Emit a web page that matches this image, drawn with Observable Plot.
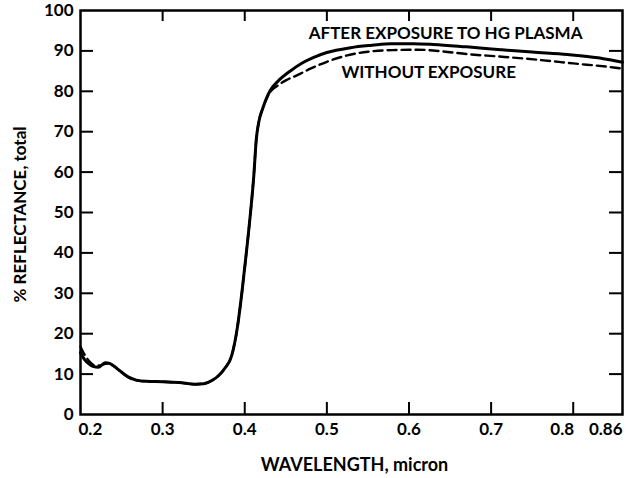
<!DOCTYPE html>
<html>
<head>
<meta charset="utf-8">
<script src="https://cdn.jsdelivr.net/npm/d3@7"></script>
<script src="https://cdn.jsdelivr.net/npm/@observablehq/plot@0.6"></script>
<style>
  html, body { margin: 0; padding: 0; background: #fff; }
  #chart svg { display: block; }
</style>
</head>
<body>
<div id="chart"></div>
<script>
// After exposure to Hg plasma (solid)
const afterWl = [0.200, 0.205, 0.210, 0.215, 0.222, 0.230, 0.236, 0.245, 0.258, 0.268, 0.280, 0.300, 0.320, 0.340, 0.350, 0.360, 0.368, 0.376, 0.384, 0.391, 0.397, 0.403, 0.408, 0.411, 0.414, 0.417, 0.422, 0.431, 0.440, 0.456, 0.470, 0.484, 0.500, 0.529, 0.555, 0.578, 0.605, 0.630, 0.670, 0.712, 0.750, 0.793, 0.830, 0.849, 0.860];
const afterR  = [15.3, 13.6, 12.6, 11.9, 11.7, 12.8, 12.6, 11.3, 9.3, 8.5, 8.2, 8.1, 7.9, 7.5, 7.6, 8.4, 9.6, 11.5, 14.5, 21.5, 31, 42, 52, 59, 68, 72.3, 75.8, 80.2, 82.4, 85.1, 87.0, 88.4, 89.6, 90.8, 91.4, 91.8, 91.8, 91.6, 91.0, 90.3, 89.7, 89.1, 88.3, 87.6, 87.2];

// Without exposure (dashed)
const beforeWl = [0.200, 0.205, 0.212, 0.218, 0.225, 0.232, 0.240, 0.250, 0.260, 0.270, 0.280, 0.300, 0.320, 0.340, 0.350, 0.360, 0.368, 0.376, 0.384, 0.391, 0.397, 0.403, 0.408, 0.411, 0.414, 0.417, 0.422, 0.431, 0.440, 0.450, 0.464, 0.480, 0.500, 0.525, 0.550, 0.580, 0.610, 0.640, 0.671, 0.710, 0.752, 0.800, 0.849, 0.860];
const beforeR  = [16.8, 14.8, 12.9, 12.1, 12.2, 12.6, 12.0, 10.4, 9.0, 8.4, 8.2, 8.1, 7.9, 7.5, 7.6, 8.4, 9.6, 11.5, 14.5, 21.5, 31, 42, 52, 59, 68, 72.3, 75.8, 79.8, 81.4, 82.7, 84.0, 85.6, 87.3, 88.9, 89.8, 90.2, 90.3, 89.9, 89.2, 88.6, 87.9, 86.9, 85.9, 85.6];

const yTicks = [0, 10, 20, 30, 40, 50, 60, 70, 80, 90, 100];
const innerYTicks = [10, 20, 30, 40, 50, 60, 70, 80, 90];
const xTicksMid = [0.3, 0.4, 0.5, 0.6, 0.7];
const innerXTicks = [0.3, 0.4, 0.5, 0.6, 0.7, 0.8];
const xLabelFirst = [{v: 0.2, t: "0.2"}];
const xLabelEight = [{v: 0.8, t: "0.8"}];
const xLabelLast = [{v: 0.86, t: "0.86"}];

const labels = [
  {wl: 0.6446, r: 94.3, text: "AFTER EXPOSURE TO HG PLASMA"},
  {wl: 0.6240, r: 84.7, text: "WITHOUT EXPOSURE"}
];

const afterData = afterWl.map((w, i) => ({wl: w, r: afterR[i]}));
const beforeData = beforeWl.map((w, i) => ({wl: w, r: beforeR[i]}));

const W = 637, H = 478;
const mL = 80, mR = 15, mT = 10, mB = 64;
const innerW = W - mL - mR, innerH = H - mT - mB;
const font = "Lato, 'DejaVu Sans', sans-serif";
const tickFs = 17;

const chart = Plot.plot({
  width: W,
  height: H,
  marginLeft: mL,
  marginRight: mR,
  marginTop: mT,
  marginBottom: mB,
  style: {fontFamily: font, fontWeight: "bold", color: "#000", background: "#fff"},
  x: {domain: [0.2, 0.86]},
  y: {domain: [0, 100]},
  marks: [
    Plot.axisY(yTicks, {tickSize: 0, tickPadding: 7, fontSize: tickFs, fontWeight: "bold", label: null}),
    Plot.axisX(xTicksMid, {tickSize: 0, tickPadding: 8, fontSize: tickFs, fontWeight: "bold", label: null, tickFormat: d => d.toFixed(1)}),
    Plot.text(xLabelFirst, {x: "v", text: "t", frameAnchor: "bottom", textAnchor: "start", lineAnchor: "top", dy: 8, dx: -2, fontSize: tickFs, fontWeight: "bold"}),
    Plot.text(xLabelEight, {x: "v", text: "t", frameAnchor: "bottom", textAnchor: "middle", lineAnchor: "top", dy: 8, dx: -11, fontSize: tickFs, fontWeight: "bold"}),
    Plot.text(xLabelLast, {x: "v", text: "t", frameAnchor: "bottom", textAnchor: "end", lineAnchor: "top", dy: 8, dx: 0, fontSize: tickFs, fontWeight: "bold"}),
    // inward tick marks on all four sides
    Plot.ruleX(innerXTicks, {insetTop: innerH - 12, strokeWidth: 2}),
    Plot.ruleX(innerXTicks, {insetBottom: innerH - 11, strokeWidth: 2}),
    Plot.ruleY(innerYTicks, {insetRight: innerW - 13, strokeWidth: 2}),
    Plot.ruleY(innerYTicks, {insetLeft: innerW - 13, strokeWidth: 2}),
    Plot.frame({stroke: "#000", strokeWidth: 2.5}),
    Plot.line(beforeData, {x: "wl", y: "r", curve: "monotone-x", stroke: "#000", strokeWidth: 2.4, strokeDasharray: "9,5"}),
    Plot.line(afterData, {x: "wl", y: "r", curve: "monotone-x", stroke: "#000", strokeWidth: 3}),
    Plot.text(labels, {x: "wl", y: "r", text: "text", fontSize: 17, fontWeight: "bold"}),
    Plot.text(["WAVELENGTH, micron"], {frameAnchor: "bottom", textAnchor: "middle", lineAnchor: "middle", dy: 51, dx: 274 - innerW / 2, fontSize: 18, fontWeight: "bold"}),
    Plot.text(["% REFLECTANCE, total"], {frameAnchor: "left", textAnchor: "middle", lineAnchor: "middle", rotate: -90, dx: -60, dy: 2, fontSize: 17, fontWeight: "bold"})
  ]
});
document.getElementById("chart").appendChild(chart);
</script>
</body>
</html>
